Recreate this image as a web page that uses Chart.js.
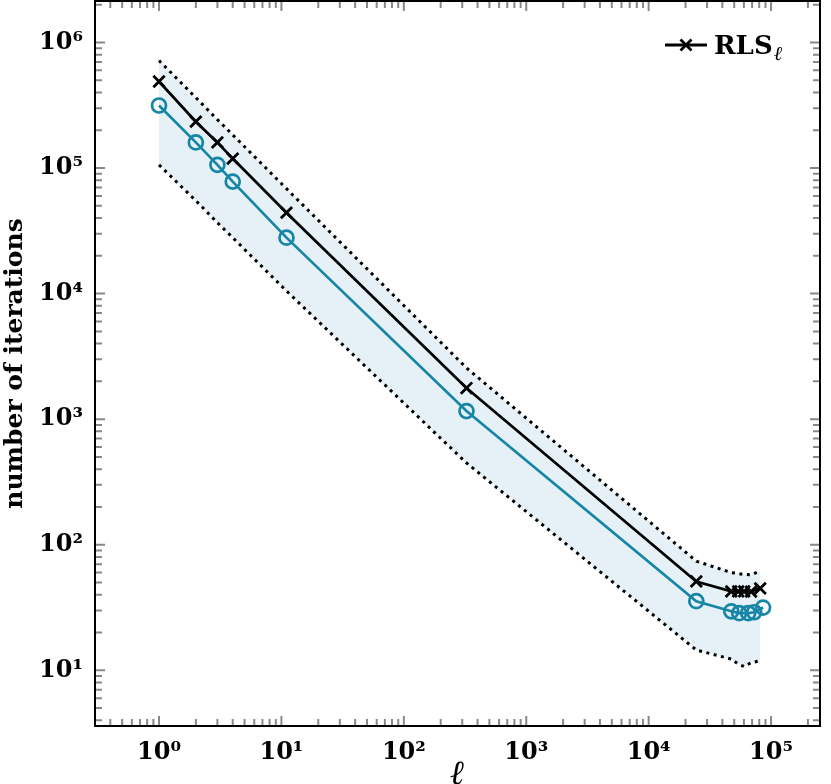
<!DOCTYPE html>
<html><head><meta charset="utf-8">
<script src="https://cdn.jsdelivr.net/npm/chart.js@4/dist/chart.umd.min.js"></script>
<style>html,body{margin:0;padding:0;background:#fff}#wrap{width:831px;height:784px;position:relative}</style>
</head><body><div id="wrap"><canvas id="c" width="831" height="784"></canvas></div>
<script>
// ---- data ----
const rlsL = [1, 2, 3, 4, 11, 325, 24500, 47300, 53900, 60300, 68700, 81500];
const rlsIters = [489000, 234000, 160000, 119000, 44100, 1770, 51, 42.5, 42.5, 42.5, 42.3, 44.9];
const meanL = [1, 2, 3, 4, 11, 325, 24500, 47300, 54900, 65000, 72800, 86000];
const meanIters = [315000, 160000, 106000, 78000, 27900, 1160, 35.5, 29.5, 28.5, 28.5, 29, 31.6];
const bandL = [1, 2, 3, 4, 11, 325, 24500, 47300, 53900, 60300, 68700, 81500];
const bandUpper = [718000, 364000, 243000, 184000, 68500, 2560, 74, 60, 59, 58, 57.5, 62];
const bandLower = [106000, 55000, 36700, 27900, 10500, 448, 14.5, 12.3, 11.2, 10.7, 11.5, 11.9];
const xTickPowers = [0, 1, 2, 3, 4, 5];
const yTickPowers = [1, 2, 3, 4, 5, 6];
const xRange = [0.326, 251000];
const yRange = [3.6, 2.14e6];
const legendLabel = 'RLS';
const legendSub = 'ℓ';
const xTitle = 'ℓ';
const yTitle = 'number of iterations';

const BLUE = '#1786a6';
const FILL = '#e5f1f6';
const TICK_FONT = {family: 'DejaVu Serif', weight: 'bold', size: 24};

const sup = {'0':'⁰','1':'¹','2':'²','3':'³','4':'⁴','5':'⁵','6':'⁶','7':'⁷','8':'⁸','9':'⁹','-':'⁻'};
function powLabel(v, powers) {
  const l = Math.log10(v), e = Math.round(l);
  if (Math.abs(l - e) > 1e-6 || !powers.includes(e)) return '';
  return '10' + String(e).split('').map(c => sup[c]).join('');
}
const pts = (xs, ys) => xs.map((x, i) => ({x, y: ys[i]}));

const frameTicks = {
  id: 'frameTicks',
  afterDraw(chart) {
    const {ctx, chartArea: a, scales} = chart;
    ctx.save();
    ctx.strokeStyle = '#888';
    ctx.lineWidth = 2;
    ctx.lineCap = 'butt';
    const each = (scale, fn) => {
      const lo = Math.floor(Math.log10(scale.min)), hi = Math.ceil(Math.log10(scale.max));
      for (let e = lo; e <= hi; e++) for (let k = 1; k <= 9; k++) {
        const v = k * Math.pow(10, e);
        if (v < scale.min || v > scale.max) continue;
        fn(scale.getPixelForValue(v), k === 1 ? 10 : 7);
      }
    };
    ctx.beginPath();
    each(scales.x, (p, len) => {
      ctx.moveTo(p, a.bottom); ctx.lineTo(p, a.bottom - len);
      ctx.moveTo(p, a.top); ctx.lineTo(p, a.top + len);
    });
    each(scales.y, (p, len) => {
      ctx.moveTo(a.left, p); ctx.lineTo(a.left + len, p);
      ctx.moveTo(a.right, p); ctx.lineTo(a.right - len, p);
    });
    ctx.stroke();
    ctx.strokeStyle = '#000';
    ctx.lineWidth = 2;
    ctx.strokeRect(a.left, a.top, a.right - a.left, a.bottom - a.top);

    // legend
    const ly = 45;
    ctx.lineWidth = 2.8;
    ctx.beginPath(); ctx.moveTo(665, ly); ctx.lineTo(707, ly); ctx.stroke();
    const r = 5.5;
    ctx.beginPath();
    ctx.moveTo(686 - r, ly - r); ctx.lineTo(686 + r, ly + r);
    ctx.moveTo(686 - r, ly + r); ctx.lineTo(686 + r, ly - r);
    ctx.stroke();
    ctx.fillStyle = '#000';
    ctx.textBaseline = 'alphabetic';
    ctx.textAlign = 'left';
    ctx.font = 'bold 26px "DejaVu Serif"';
    ctx.fillText(legendLabel, 714, 54);
    const w = ctx.measureText(legendLabel).width;
    ctx.font = 'italic 20px "DejaVu Serif"';
    ctx.fillText(legendSub, 714 + w + 1, 60);
    ctx.restore();
  }
};

new Chart(document.getElementById('c'), {
  type: 'line',
  data: {
    datasets: [
      {data: pts(bandL, bandLower), borderColor: '#000', borderWidth: 3, borderDash: [3, 4.5],
       borderCapStyle: 'butt', pointRadius: 0, fill: false, order: 3},
      {data: pts(bandL, bandUpper), borderColor: '#000', borderWidth: 3, borderDash: [3, 4.5],
       borderCapStyle: 'butt', pointRadius: 0, fill: '-1', backgroundColor: FILL, order: 4},
      {data: pts(meanL, meanIters), borderColor: BLUE, borderWidth: 2.7, pointStyle: 'circle',
       pointRadius: 7, pointBorderWidth: 2.7, pointBackgroundColor: 'rgba(0,0,0,0)',
       pointBorderColor: BLUE, fill: false, order: 2},
      {data: pts(rlsL, rlsIters), borderColor: '#000', borderWidth: 2.7, pointStyle: 'crossRot',
       pointRadius: 8, pointBorderWidth: 2.8, pointBorderColor: '#000', fill: false, order: 1}
    ]
  },
  options: {
    responsive: false,
    animation: false,
    devicePixelRatio: 1,
    layout: {autoPadding: false, padding: {top: 1, right: 11, left: 0, bottom: 0}},
    plugins: {legend: {display: false}, tooltip: {enabled: false}},
    elements: {line: {tension: 0}},
    scales: {
      x: {
        type: 'logarithmic', min: xRange[0], max: xRange[1],
        grid: {display: false, drawTicks: false}, border: {display: false},
        ticks: {autoSkip: false, maxRotation: 0, padding: 12, color: '#000', font: TICK_FONT,
                callback: v => powLabel(v, xTickPowers)},
        title: {display: true, text: xTitle, color: '#000',
                font: {family: 'DejaVu Serif', style: 'italic', weight: 'bold', size: 34, lineHeight: 0.5},
                padding: {top: 0, bottom: 0}},
        afterFit: s => { s.height = 58; s.paddingLeft = 0; s.paddingRight = 0; }
      },
      y: {
        type: 'logarithmic', min: yRange[0], max: yRange[1],
        grid: {display: false, drawTicks: false}, border: {display: false},
        ticks: {autoSkip: false, padding: 12, color: '#000', font: TICK_FONT,
                callback: v => powLabel(v, yTickPowers)},
        title: {display: true, text: yTitle, color: '#000',
                font: {family: 'DejaVu Serif', weight: 'bold', size: 25, lineHeight: 1.2},
                padding: {top: 0, bottom: 0}},
        afterFit: s => { s.width = 95; s.paddingTop = 0; s.paddingBottom = 0; }
      }
    }
  },
  plugins: [frameTicks]
});
</script>
</body></html>
